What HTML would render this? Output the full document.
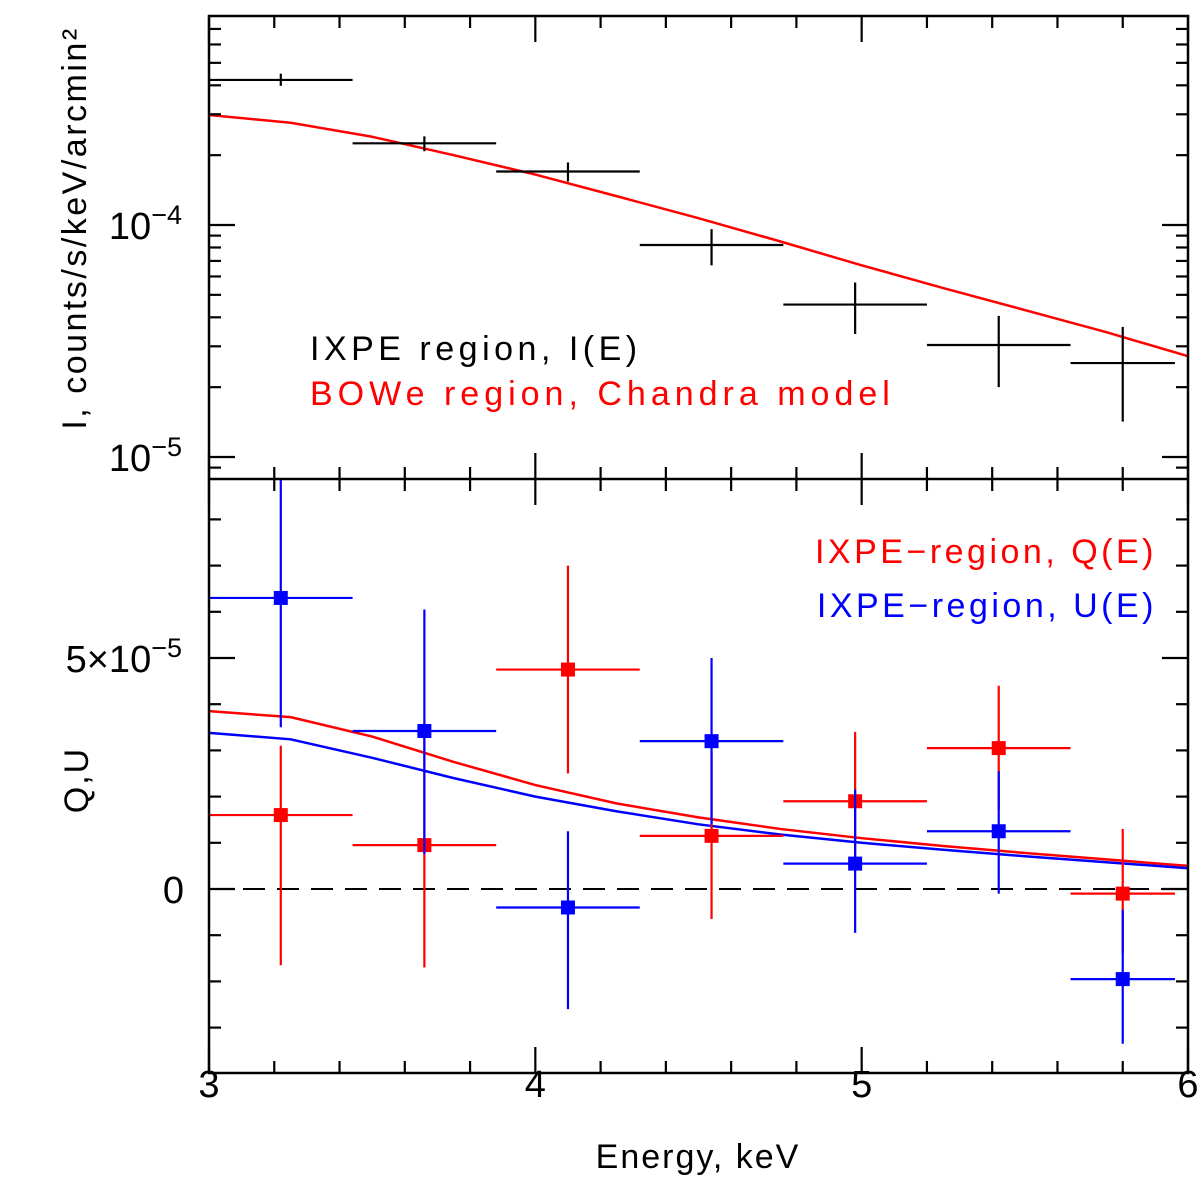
<!DOCTYPE html>
<html><head><meta charset="utf-8"><style>
html,body{margin:0;padding:0;background:#fff;}
svg text{font-family:"Liberation Sans",sans-serif;}
</style></head><body>
<svg id="chart" width="1200" height="1185" viewBox="0 0 1200 1185" xmlns="http://www.w3.org/2000/svg">
<g id="topPanel"></g>
<g id="botPanel"></g>
<g id="frame"></g>
<g id="labels">
<text x="698" y="1168" font-size="34" letter-spacing="2" text-anchor="middle" fill="#000">Energy, keV</text>
<text transform="translate(86,228) rotate(-90)" font-size="34" letter-spacing="2.5" text-anchor="middle" fill="#000">I, counts/s/keV/arcmin²</text>
<text transform="translate(88,780) rotate(-90)" font-size="34" letter-spacing="2" text-anchor="middle" fill="#000">Q,U</text>
<text x="310" y="360" font-size="34" letter-spacing="4.5" fill="#000">IXPE region, I(E)</text>
<text x="310" y="405" font-size="34" letter-spacing="5" fill="#f00">BOWe region, Chandra model</text>
<text x="1157" y="563" font-size="34" letter-spacing="3.5" fill="#f00" text-anchor="end">IXPE−region, Q(E)</text>
<text x="1157" y="617" font-size="34" letter-spacing="3.5" fill="#00f" text-anchor="end">IXPE−region, U(E)</text>
</g>
</svg>
<script>
// data
const binE=[3.22,3.66,4.10,4.54,4.98,5.42,5.80];
const binLo=[3.0,3.44,3.88,4.32,4.76,5.20,5.64];
const binHi=[3.44,3.88,4.32,4.76,5.20,5.64,5.96];
const iVal=[4.22e-4,2.25e-4,1.70e-4,8.2e-5,4.54e-5,3.04e-5,2.54e-5];
const iErrHi=[4.49e-4,2.41e-4,1.86e-4,9.6e-5,5.65e-5,4.06e-5,3.64e-5];
const iErrLo=[3.98e-4,2.08e-4,1.54e-4,6.7e-5,3.39e-5,2.0e-5,1.42e-5];
const modelE=[3.0,3.25,3.5,3.75,4.0,4.25,4.5,4.75,5.0,5.25,5.5,5.75,6.0];
const iModel=[2.98e-4,2.76e-4,2.4e-4,2.0e-4,1.65e-4,1.33e-4,1.07e-4,8.5e-5,6.7e-5,5.35e-5,4.3e-5,3.45e-5,2.72e-5];
const qVal=[1.6e-5,0.95e-5,4.75e-5,1.15e-5,1.9e-5,3.05e-5,-0.1e-5];
const qHi=[3.1e-5,3.6e-5,7.0e-5,2.95e-5,3.4e-5,4.4e-5,1.3e-5];
const qLo=[-1.65e-5,-1.7e-5,2.5e-5,-0.65e-5,0.4e-5,1.7e-5,-1.4e-5];
const uVal=[6.3e-5,3.42e-5,-0.4e-5,3.2e-5,0.55e-5,1.25e-5,-1.95e-5];
const uHi=[9.1e-5,6.05e-5,1.25e-5,5.0e-5,2.15e-5,2.55e-5,-0.45e-5];
const uLo=[3.5e-5,0.75e-5,-2.6e-5,1.4e-5,-0.95e-5,-0.1e-5,-3.35e-5];
const qModel=[3.85e-5,3.72e-5,3.3e-5,2.75e-5,2.25e-5,1.85e-5,1.55e-5,1.3e-5,1.1e-5,0.93e-5,0.78e-5,0.64e-5,0.5e-5];
const uModel=[3.38e-5,3.24e-5,2.84e-5,2.4e-5,2.0e-5,1.68e-5,1.4e-5,1.18e-5,1.0e-5,0.85e-5,0.71e-5,0.58e-5,0.45e-5];
const xTicks=[3,4,5,6];
const yTopTicks=[["10","−4"],["10","−5"]];
const yBotTicks=[0,5e-5];

const NS="http://www.w3.org/2000/svg";
const L=209,R=1188,T=16,M=479,B=1073;
const sx=e=>L+(e-3)*(R-L)/3;
const syT=v=>225-(Math.log10(v)+4)*232;
const syB=v=>889-v*4.62e6;
function el(tag,attrs,parent){const e=document.createElementNS(NS,tag);for(const k in attrs)e.setAttribute(k,attrs[k]);parent.appendChild(e);return e;}
const svgRoot=document.getElementById('chart');
const topG=document.getElementById('topPanel'),botG=document.getElementById('botPanel'),frame=document.getElementById('frame');
const defs=el('defs',{},svgRoot);
const clipB=el('clipPath',{id:'cb'},defs);
el('rect',{x:L,y:M,width:R-L,height:B-M},clipB);
const clipT=el('clipPath',{id:'ct'},defs);
el('rect',{x:L,y:T,width:R-L,height:M-T},clipT);
topG.setAttribute('clip-path','url(#ct)');botG.setAttribute('clip-path','url(#cb)');

// frame
let fr=el('rect',{x:L,y:T,width:R-L,height:B-T,fill:'none',stroke:'#000','stroke-width':2.5},frame);


let dv=el('line',{x1:L,x2:R,y1:M,y2:M,stroke:'#000','stroke-width':2.5},frame);


// x ticks
for(let i=0;i<=15;i++){const e=3+i*0.2;const x=sx(e);const maj=Math.abs(e-Math.round(e))<1e-6;const len=maj?26:12;
 [[T,T+len],[B,B-len],[M,M+len],[M,M-len]].forEach(p=>{const t=el('line',{x1:x,x2:x,y1:p[0],y2:p[1],stroke:'#000','stroke-width':2.2},frame);
 
 });}
xTicks.forEach(e=>{const t=el('text',{x:sx(e),y:1097,'font-size':38,'text-anchor':'middle'},frame);t.textContent=e;
 
 });
// top y ticks (log)
for(let d=-6;d<=-3;d++)for(let m=1;m<10;m++){const v=m*Math.pow(10,d);const y=syT(v);if(y<T||y>M)continue;const len=m==1?26:12;
 [[L,L+len],[R,R-len]].forEach(p=>{const t=el('line',{x1:p[0],x2:p[1],y1:y,y2:y,stroke:'#000','stroke-width':2.2},frame);
 
 });}
function expLabel(x,y,base,ex,name){const t=el('text',{x:x,y:y,'font-size':38,'text-anchor':'end'},frame);
 
 
 const a=el('tspan',{},t);a.textContent=base;
 const b=el('tspan',{dy:-15,'font-size':27},t);b.textContent=ex;}
[1e-4,1e-5].forEach((v,i)=>expLabel(182,syT(v)+14,yTopTicks[i][0],yTopTicks[i][1],'y-tick-label-top'));
// bottom y ticks
for(let k=-4;k<=8;k++){const v=k*1e-5;const y=syB(v);if(y<M||y>B)continue;const len=(k%5==0)?26:12;
 [[L,L+len],[R,R-len]].forEach(p=>{const t=el('line',{x1:p[0],x2:p[1],y1:y,y2:y,stroke:'#000','stroke-width':2.2},frame);
 
 });}
yBotTicks.forEach(v=>{if(v==0){const t=el('text',{x:184,y:syB(v)+14,'font-size':38,'text-anchor':'end'},frame);t.textContent='0';
 
 }
 else expLabel(182,syB(v)+14,'5×10','−5','y-tick-label-bottom');});
// zero line
let z=el('line',{x1:L,x2:R,y1:syB(0),y2:syB(0),stroke:'#000','stroke-width':2,'stroke-dasharray':'22,12'},botG);


// models
function poly(vals,sy,color,parent,name){const p=el('polyline',{points:modelE.map((e,i)=>sx(e)+','+sy(vals[i])).join(' '),fill:'none',stroke:color,'stroke-width':2.5,'stroke-linejoin':'round'},parent);
 
 }
poly(iModel,syT,'#f00',topG,'chandra-model-line');
poly(qModel,syB,'#f00',botG,'q-model-line');
poly(uModel,syB,'#00f',botG,'u-model-line');
// points
function pts(vals,hi,lo,sy,color,parent,name,marker){binE.forEach((e,i)=>{const g=el('g',{},parent);
 
 
 el('line',{x1:sx(binLo[i]),x2:sx(binHi[i]),y1:sy(vals[i]),y2:sy(vals[i]),stroke:color,'stroke-width':2.2},g);
 el('line',{x1:sx(e),x2:sx(e),y1:sy(hi[i]),y2:sy(lo[i]),stroke:color,'stroke-width':2.2},g);
 if(marker)el('rect',{x:sx(e)-7,y:sy(vals[i])-7,width:14,height:14,fill:color},g);});}
pts(iVal,iErrHi,iErrLo,syT,'#000',topG,'intensity-point',false);
pts(qVal,qHi,qLo,syB,'#f00',botG,'q-point',true);
pts(uVal,uHi,uLo,syB,'#00f',botG,'u-point',true);
</script>
</body></html>
